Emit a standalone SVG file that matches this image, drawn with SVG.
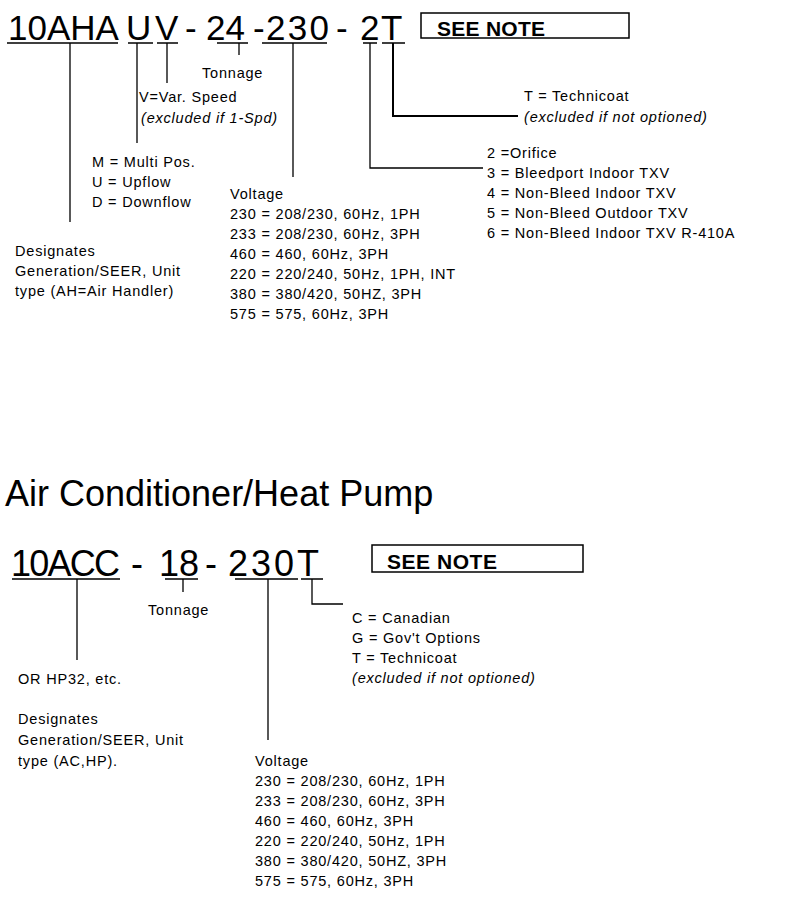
<svg xmlns="http://www.w3.org/2000/svg" width="811" height="904" viewBox="0 0 811 904">
<style>
.big{font-family:"Liberation Sans",Arial,sans-serif;font-size:35px;fill:#000}
.title{font-family:"Liberation Sans",Arial,sans-serif;font-size:36px;fill:#000}
.t{font-family:"Liberation Sans",Arial,sans-serif;font-size:14.5px;letter-spacing:0.8px;fill:#000}
.i{font-style:italic}
.note{font-family:"Liberation Sans",Arial,sans-serif;font-size:21px;font-weight:bold;fill:#000}
.box{fill:#fff;stroke:#000;stroke-width:1.5}
.ul{stroke:#000;stroke-width:1.5;fill:none}
.c{stroke:#000;stroke-width:1.3;fill:none}
.c2{stroke:#000;stroke-width:2;fill:none}
</style>
<rect width="811" height="904" fill="#fff"/>

<!-- ===== Top: Air handler ===== -->
<g id="code-ah">
<text class="big" y="40"><tspan x="8">10AHA</tspan><tspan x="126">U</tspan><tspan x="155">V</tspan><tspan x="185">-</tspan><tspan x="206">24</tspan><tspan x="253">-</tspan><tspan x="266" textLength="63">230</tspan><tspan x="336">-</tspan><tspan x="360">2</tspan><tspan x="381">T</tspan></text>
</g>
<g id="note-ah">
<rect class="box" x="421" y="13" width="208" height="25"/>
<text class="note" x="437" y="36" textLength="108">SEE NOTE</text>
</g>
<g id="tonnage-ah"><text class="t" x="202" y="78">Tonnage</text></g>
<g id="speed-ah">
<text class="t" x="139" y="102">V=Var. Speed</text>
<text class="t i" x="141" y="123">(excluded if 1-Spd)</text>
</g>
<g id="coat-ah">
<text class="t" x="524" y="101">T = Technicoat</text>
<text class="t i" x="524" y="122">(excluded if not optioned)</text>
</g>
<g id="pos-ah">
<text class="t" x="92" y="167">M = Multi Pos.</text>
<text class="t" x="92" y="187">U = Upflow</text>
<text class="t" x="92" y="207">D = Downflow</text>
</g>
<g id="gen-ah">
<text class="t" x="15" y="256">Designates</text>
<text class="t" x="15" y="276">Generation/SEER, Unit</text>
<text class="t" x="15" y="296">type (AH=Air Handler)</text>
</g>
<g id="voltage-ah">
<text class="t" x="230" y="199">Voltage</text>
<text class="t" x="230" y="219">230 = 208/230, 60Hz, 1PH</text>
<text class="t" x="230" y="239">233 = 208/230, 60Hz, 3PH</text>
<text class="t" x="230" y="259">460 = 460, 60Hz, 3PH</text>
<text class="t" x="230" y="279">220 = 220/240, 50Hz, 1PH, INT</text>
<text class="t" x="230" y="299">380 = 380/420, 50HZ, 3PH</text>
<text class="t" x="230" y="319">575 = 575, 60Hz, 3PH</text>
</g>
<g id="meter-ah">
<text class="t" x="487" y="158">2 =Orifice</text>
<text class="t" x="487" y="178">3 = Bleedport Indoor TXV</text>
<text class="t" x="487" y="198">4 = Non-Bleed Indoor TXV</text>
<text class="t" x="487" y="218">5 = Non-Bleed Outdoor TXV</text>
<text class="t" x="487" y="238">6 = Non-Bleed Indoor TXV R-410A</text>
</g>

<!-- ===== Bottom: AC / HP ===== -->
<g id="title-ac"><text class="title" x="5" y="506">Air Conditioner/Heat Pump</text></g>
<g id="code-ac">
<text class="title" y="576"><tspan x="11" textLength="109">10ACC</tspan><tspan x="131">-</tspan><tspan x="159">18</tspan><tspan x="205">-</tspan><tspan x="228">2</tspan><tspan x="251">3</tspan><tspan x="274">0</tspan><tspan x="297">T</tspan></text>
</g>
<g id="note-ac">
<rect class="box" x="372" y="545" width="211" height="27"/>
<text class="note" x="387" y="569" textLength="110">SEE NOTE</text>
</g>
<g id="tonnage-ac"><text class="t" x="148" y="615">Tonnage</text></g>
<g id="opt-ac">
<text class="t" x="352" y="623">C = Canadian</text>
<text class="t" x="352" y="643">G = Gov't Options</text>
<text class="t" x="352" y="663">T = Technicoat</text>
<text class="t i" x="352" y="683">(excluded if not optioned)</text>
</g>
<g id="gen-ac">
<text class="t" x="18" y="684">OR HP32, etc.</text>
<text class="t" x="18" y="724">Designates</text>
<text class="t" x="18" y="745">Generation/SEER, Unit</text>
<text class="t" x="18" y="766">type (AC,HP).</text>
</g>
<g id="voltage-ac">
<text class="t" x="255" y="766">Voltage</text>
<text class="t" x="255" y="786">230 = 208/230, 60Hz, 1PH</text>
<text class="t" x="255" y="806">233 = 208/230, 60Hz, 3PH</text>
<text class="t" x="255" y="826">460 = 460, 60Hz, 3PH</text>
<text class="t" x="255" y="846">220 = 220/240, 50Hz, 1PH</text>
<text class="t" x="255" y="866">380 = 380/420, 50HZ, 3PH</text>
<text class="t" x="255" y="886">575 = 575, 60Hz, 3PH</text>
</g>

<!-- ===== Connectors ===== -->
<g id="connectors">
<path class="ul" d="M7 43H118M128 43H153M157 43H178M217 43H248M262 43H327M363 43H377M382 43H405"/>
<path class="c" d="M70 43V222M137 43V143M167 43V83M239 43V55M293 43V177M370 43V168H483"/>
<path class="c2" d="M393 43V116H518"/>
<path class="ul" d="M12 579H120M165 579H198M235 579H298M301 579H323"/>
<path class="c" d="M77 579V660M183 579V592M268 579V740M312 579V604H343"/>
</g>
</svg>
